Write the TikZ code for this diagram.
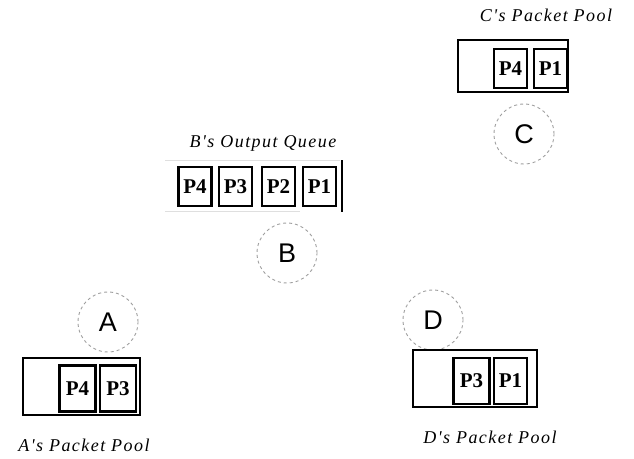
\documentclass[tikz,border=0pt]{standalone}
\usepackage{fontspec}
\setmainfont{Liberation Serif}
\newfontfamily\circfont{Liberation Sans}
\newfontfamily\lblfont[LetterSpace=8]{Liberation Serif Italic}
\begin{document}
\begin{tikzpicture}[x=1pt,y=-1pt,
  pool/.style={draw=black,line width=1.8pt},
  pkt/.style={draw=black,line width=2.2pt,minimum width=33pt,minimum height=39pt,inner sep=0pt,font=\bfseries\fontsize{21}{21}\selectfont},
  host/.style={circle,draw=gray!75,dashed,line width=0.9pt,minimum size=60pt,inner sep=0pt,font=\circfont\fontsize{27}{27}\selectfont},
  lbl/.style={font=\lblfont\fontsize{18}{18}\selectfont,inner sep=0pt}]
\useasboundingbox (0,0) rectangle (634,458);
% C
\node[lbl] (lc) at (546,15) {C's Packet Pool};
\draw[pool] (458,40) rectangle (568,92);
\node[pkt] (c4) at (510.5,68.5) {P4};
\node[pkt] (c1) at (550.5,68.5) {P1};
\node[host] (C) at (524,134) {C};
% B
\node[lbl] (lb) at (263,143) {B's Output Queue};
\draw[gray!25,line width=0.8pt] (165,160) -- (340,160);
\draw[gray!25,line width=0.8pt] (165,211) -- (300,211);
\node[pkt] (b4) at (195,186.5) {P4};
\node[pkt] (b3) at (235.5,186.5) {P3};
\node[pkt] (b2) at (278.5,186.5) {P2};
\node[pkt] (b1) at (319.5,186.5) {P1};
\draw[black,line width=1.8pt] (342,160) -- (342,212);
\node[host] (B) at (287,253) {B};
% A
\node[host] (A) at (108,322) {A};
\draw[pool] (23,358) rectangle (140,415);
\node[pkt,minimum width=36pt,minimum height=46pt] (a4) at (77.5,388.5) {P4};
\node[pkt,minimum width=36pt,minimum height=46pt] (a3) at (118,388.5) {P3};
\node[lbl] (la) at (84,445) {A's Packet Pool};
% D
\node[host] (D) at (433,320) {D};
\draw[pool] (413,350) rectangle (537,407);
\node[pkt,minimum width=36pt,minimum height=46pt] (d3) at (471.5,381) {P3};
\node[pkt,minimum width=33pt,minimum height=46pt] (d1) at (510.5,381) {P1};
\node[lbl] (ld) at (490,437) {D's Packet Pool};
\end{tikzpicture}
\end{document}
